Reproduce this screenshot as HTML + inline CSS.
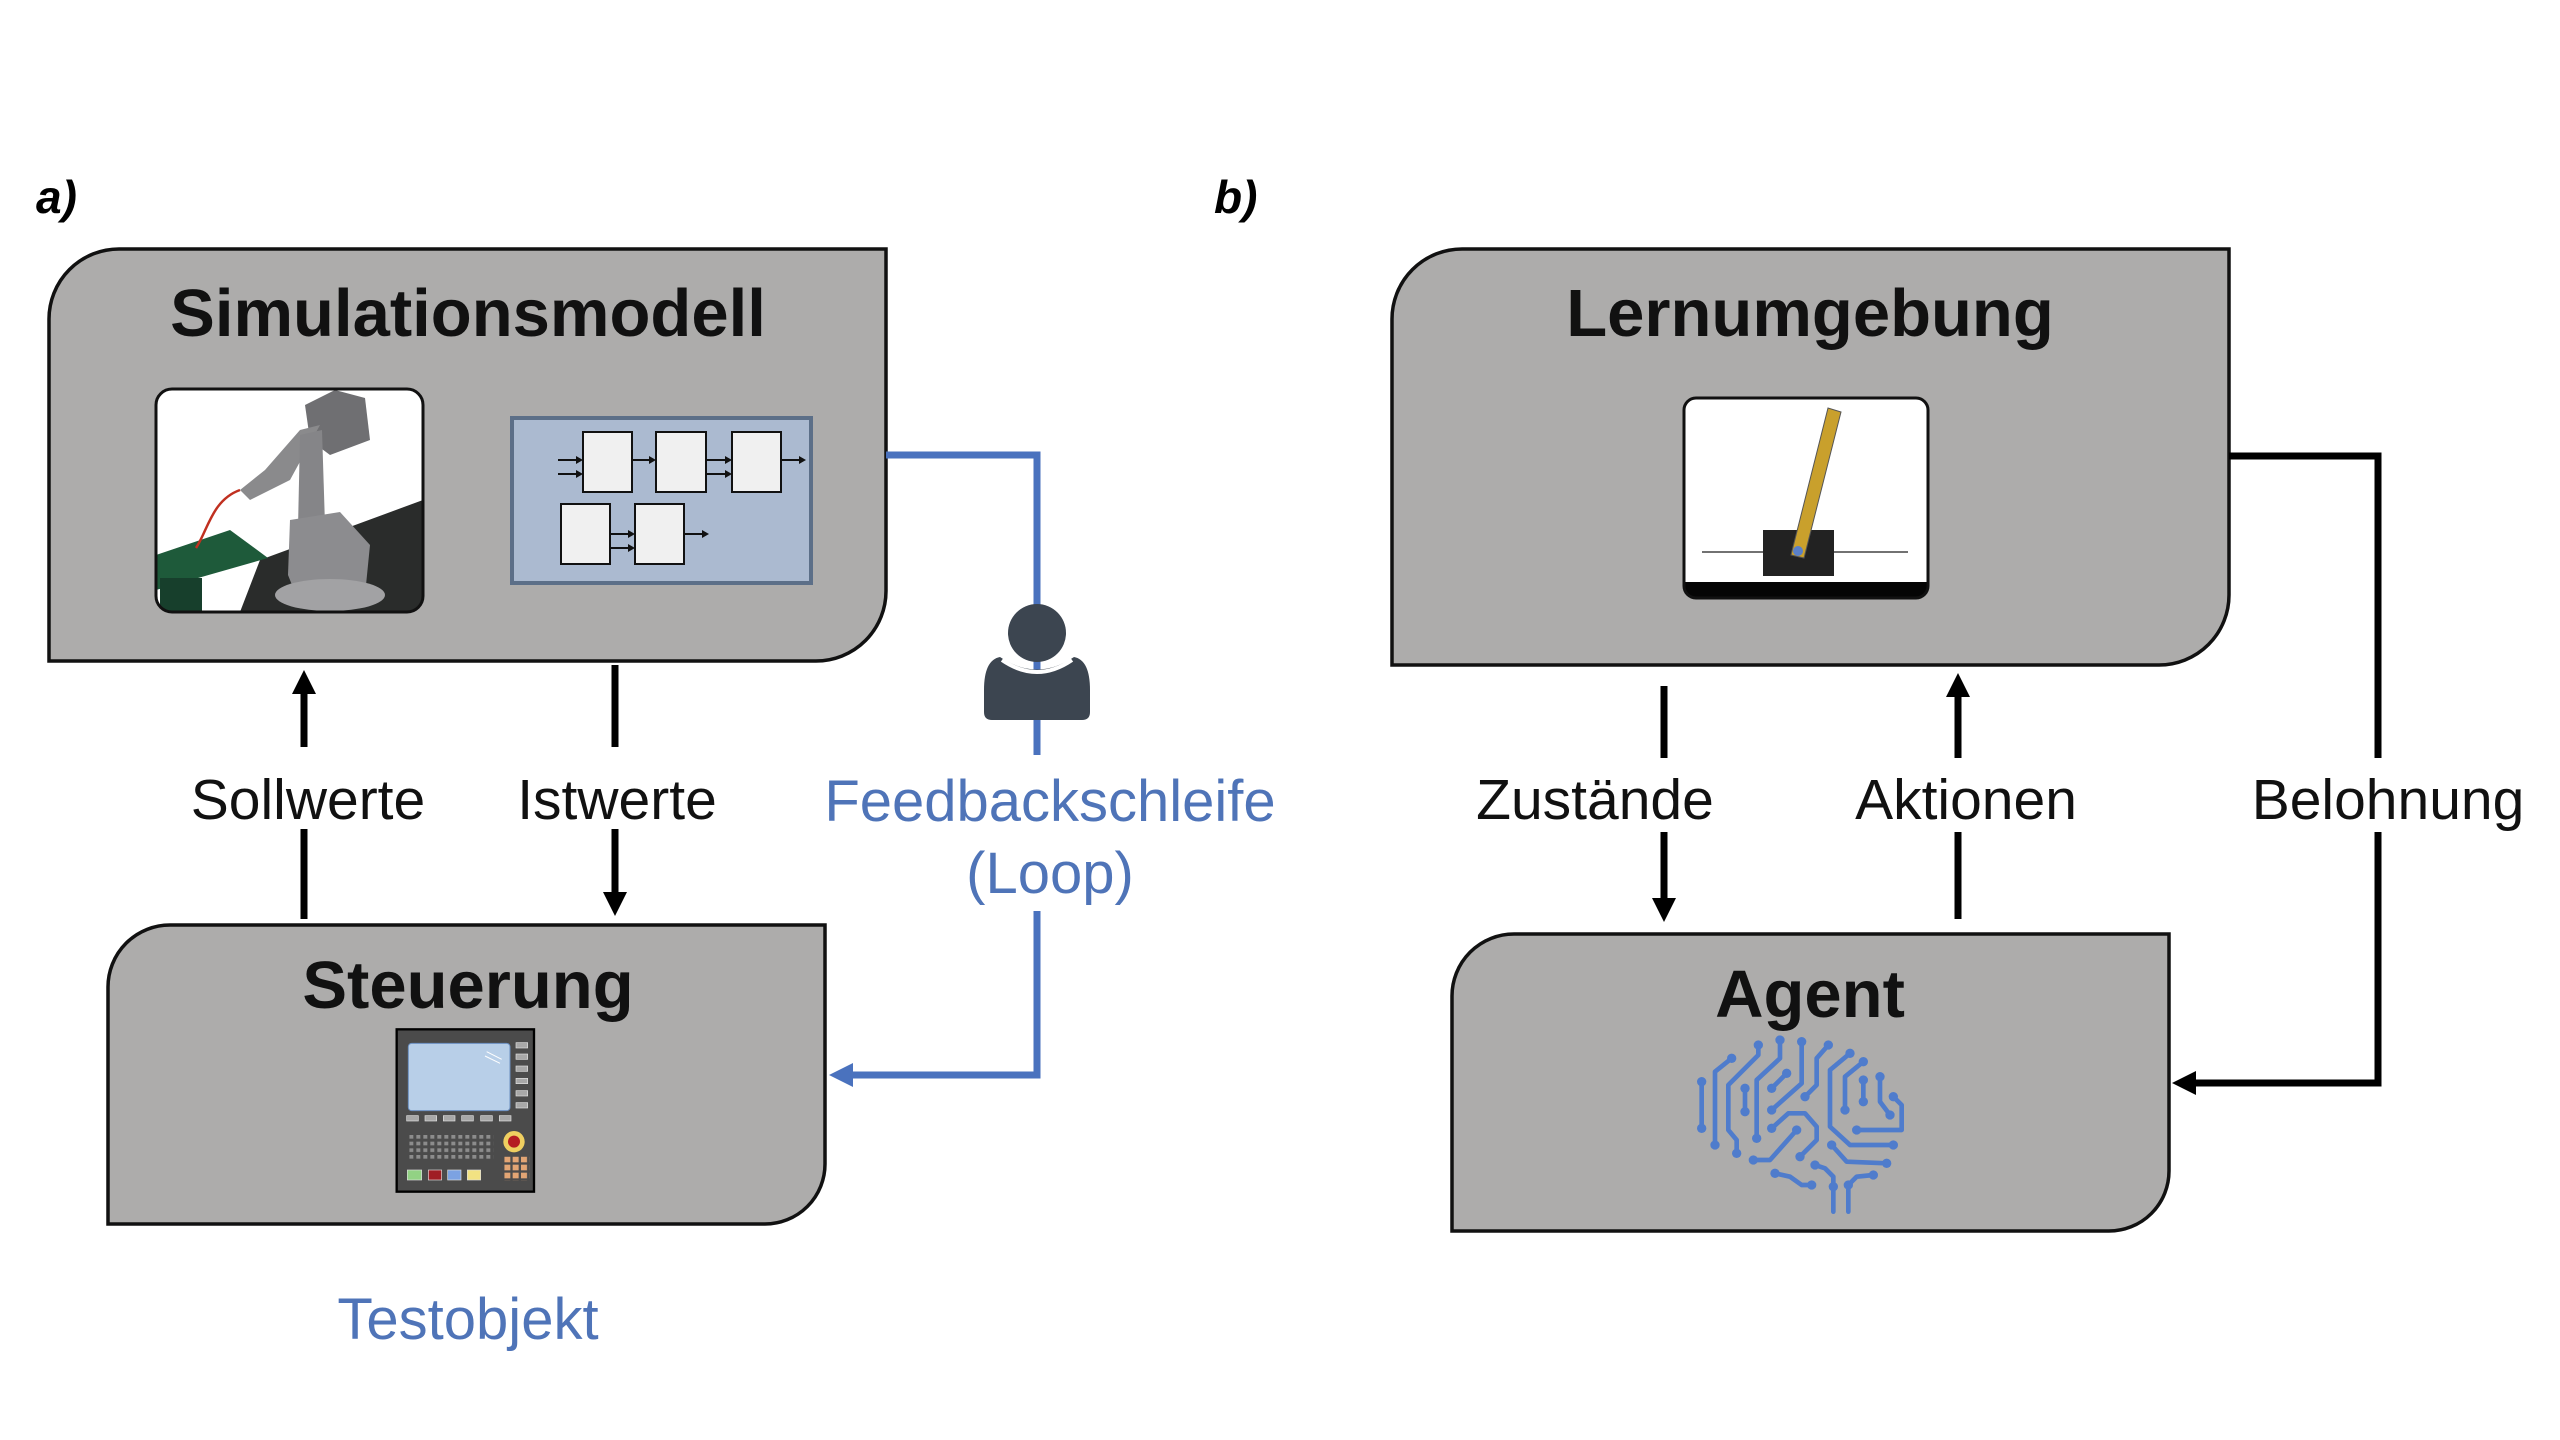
<!DOCTYPE html>
<html><head><meta charset="utf-8"><style>html,body{margin:0;padding:0;background:#fff}svg{display:block}</style></head>
<body>
<svg width="2560" height="1440" viewBox="0 0 2560 1440" xmlns="http://www.w3.org/2000/svg" font-family="Liberation Sans, sans-serif">
<rect width="2560" height="1440" fill="#fff"/>
<text x="36" y="213" font-size="46" font-weight="bold" font-style="italic">a)</text>
<text x="1214" y="213" font-size="46" font-weight="bold" font-style="italic">b)</text>

<g fill="#adacab" stroke="#111" stroke-width="3.5">
<path d="M119 249 H886 V591 A70 70 0 0 1 816 661 H49 V319 A70 70 0 0 1 119 249 Z"/>
<path d="M170 925 H825 V1164 A60 60 0 0 1 765 1224 H108 V987 A62 62 0 0 1 170 925 Z"/>
<path d="M1462 249 H2229 V595 A70 70 0 0 1 2159 665 H1392 V319 A70 70 0 0 1 1462 249 Z"/>
<path d="M1514 934 H2169 V1171 A60 60 0 0 1 2109 1231 H1452 V996 A62 62 0 0 1 1514 934 Z"/>
</g>

<g font-weight="bold" font-size="67" text-anchor="middle" fill="#111">
<text x="468" y="336">Simulationsmodell</text>
<text x="468" y="1008">Steuerung</text>
<text x="1810" y="336">Lernumgebung</text>
<text x="1810" y="1017">Agent</text>
</g>

<clipPath id="rc"><rect x="156" y="389" width="267" height="223" rx="16"/></clipPath>
<g clip-path="url(#rc)">
<rect x="156" y="389" width="267" height="223" fill="#fff"/>
<polygon points="260,560 423,500 423,612 240,612" fill="#2a2c2b"/>
<polygon points="156,555 230,530 268,558 156,590" fill="#1e5a3a"/>
<rect x="160" y="578" width="42" height="34" fill="#173f2c"/>
<path d="M196 548 C208 530 212 500 240 490" stroke="#c03020" stroke-width="2.5" fill="none"/>
<polygon points="305,405 335,390 365,398 370,440 330,455 310,440" fill="#6f6f72"/>
<polygon points="300,430 320,425 290,480 250,500 240,490 265,470" fill="#8a8a8c"/>
<polygon points="300,435 322,430 325,525 298,528" fill="#858588"/>
<polygon points="290,520 340,512 370,545 365,595 300,605 288,575" fill="#8c8c8f"/>
<ellipse cx="330" cy="595" rx="55" ry="16" fill="#a2a2a4"/>
</g>
<rect x="156" y="389" width="267" height="223" rx="16" fill="none" stroke="#111" stroke-width="3"/>

<rect x="512" y="418" width="299" height="165" fill="#abbad0" stroke="#5c6f88" stroke-width="4"/>
<g fill="#f0f0f0" stroke="#111" stroke-width="2">
<rect x="583" y="432" width="49" height="60"/><rect x="656" y="432" width="50" height="60"/><rect x="732" y="432" width="49" height="60"/>
<rect x="561" y="504" width="49" height="60"/><rect x="635" y="504" width="49" height="60"/>
</g>
<g stroke="#111" stroke-width="2">
<line x1="558" y1="460" x2="578" y2="460"/><line x1="558" y1="474" x2="578" y2="474"/>
<line x1="632" y1="460" x2="651" y2="460"/><line x1="706" y1="460" x2="727" y2="460"/><line x1="706" y1="474" x2="727" y2="474"/>
<line x1="781" y1="460" x2="799" y2="460"/>
<line x1="610" y1="534" x2="630" y2="534"/><line x1="610" y1="548" x2="630" y2="548"/><line x1="684" y1="534" x2="702" y2="534"/>
</g>
<g fill="#111">
<polygon points="583,460 576,456 576,464"/><polygon points="583,474 576,470 576,478"/>
<polygon points="656,460 649,456 649,464"/><polygon points="732,460 725,456 725,464"/><polygon points="732,474 725,470 725,478"/>
<polygon points="806,460 799,456 799,464"/>
<polygon points="635,534 628,530 628,538"/><polygon points="635,548 628,544 628,552"/><polygon points="709,534 702,530 702,538"/>
</g>

<g transform="translate(390,1020) scale(0.33333)">
<rect x="20" y="28" width="412" height="487" fill="#4b4b4b" stroke="#000" stroke-width="7"/>
<rect x="55" y="70" width="305" height="202" rx="10" fill="#b8cfe8" stroke="#6b8fc0" stroke-width="3"/>
<line x1="290" y1="95" x2="335" y2="118" stroke="#fff" stroke-width="3"/><line x1="285" y1="108" x2="330" y2="130" stroke="#fff" stroke-width="3"/>
<g fill="#a8a8a8" stroke="#e0e0e0" stroke-width="2">
<rect x="378" y="68" width="35" height="16"/><rect x="378" y="102" width="35" height="16"/><rect x="378" y="138" width="35" height="16"/><rect x="378" y="175" width="35" height="16"/><rect x="378" y="212" width="35" height="16"/><rect x="378" y="248" width="35" height="16"/>
<rect x="50" y="287" width="35" height="16"/><rect x="105" y="287" width="35" height="16"/><rect x="160" y="287" width="35" height="16"/><rect x="215" y="287" width="35" height="16"/><rect x="272" y="287" width="35" height="16"/><rect x="328" y="287" width="35" height="16"/>
</g>
<pattern id="kp" x="58" y="345" width="21" height="20" patternUnits="userSpaceOnUse"><rect width="12" height="11" fill="#8c8c8c"/></pattern>
<rect x="58" y="345" width="252" height="78" fill="url(#kp)"/>
<circle cx="372" cy="365" r="32" fill="#efcf60"/><circle cx="372" cy="365" r="18" fill="#b41c22"/>
<pattern id="np" x="343" y="410" width="25" height="24" patternUnits="userSpaceOnUse"><rect width="18" height="17" fill="#e2a574"/></pattern>
<rect x="343" y="410" width="75" height="72" fill="url(#np)"/>
<rect x="52" y="450" width="43" height="30" fill="#92d284" stroke="#ddd" stroke-width="2"/>
<rect x="115" y="450" width="40" height="30" fill="#a01e24" stroke="#ddd" stroke-width="2"/>
<rect x="173" y="450" width="40" height="30" fill="#7ca2e2" stroke="#ddd" stroke-width="2"/>
<rect x="232" y="450" width="40" height="30" fill="#f2e282" stroke="#ddd" stroke-width="2"/>
</g>

<clipPath id="cc"><rect x="1684" y="398" width="244" height="200" rx="12"/></clipPath>
<g clip-path="url(#cc)">
<rect x="1684" y="398" width="244" height="200" fill="#fff"/>
<rect x="1684" y="582" width="244" height="20" fill="#050505"/>
<line x1="1702" y1="552" x2="1908" y2="552" stroke="#444" stroke-width="1.5"/>
<rect x="1763" y="530" width="71" height="46" fill="#222"/>
<polygon points="1791,555 1804,558 1841,412 1828,408" fill="#c9a02c" stroke="#555" stroke-width="1"/>
<circle cx="1798" cy="551" r="5" fill="#5a80c8"/>
</g>
<rect x="1684" y="398" width="244" height="200" rx="12" fill="none" stroke="#111" stroke-width="3"/>

<g transform="translate(1690,1030) scale(0.33333)" stroke="#4f7ccc" stroke-width="14" fill="none" stroke-linejoin="round" stroke-linecap="round">
<polyline points="35,155 35,295"/>
<polyline points="75,345 75,125 125,85"/>
<polyline points="140,370 140,330 115,300 115,165 205,75 205,45"/>
<polyline points="165,175 165,245"/>
<polyline points="200,325 200,150 270,85 270,30"/>
<polyline points="245,175 290,130"/>
<polyline points="245,240 335,160 335,35"/>
<polyline points="345,200 380,165 380,85 415,45"/>
<polyline points="245,295 295,250 345,250 380,290 380,330 330,380"/>
<polyline points="190,390 240,390 320,300"/>
<polyline points="465,240 465,140 520,95"/>
<polyline points="520,150 520,215"/>
<polyline points="570,140 570,215 600,255"/>
<polyline points="610,200 635,225 635,300 500,300"/>
<polyline points="480,70 420,120 420,290 480,345 610,345"/>
<polyline points="425,345 470,395 590,400"/>
<polyline points="255,430 300,440 335,465 365,465"/>
<polyline points="375,405 405,415 430,440 430,545"/>
<polyline points="550,435 500,440 475,465 475,545"/>
<g fill="#4f7ccc" stroke="none">
<circle cx="35" cy="155" r="14"/><circle cx="35" cy="295" r="14"/><circle cx="75" cy="345" r="14"/><circle cx="125" cy="85" r="14"/>
<circle cx="140" cy="370" r="14"/><circle cx="205" cy="45" r="14"/><circle cx="165" cy="175" r="14"/><circle cx="165" cy="245" r="14"/>
<circle cx="200" cy="325" r="14"/><circle cx="270" cy="30" r="14"/><circle cx="245" cy="175" r="14"/><circle cx="290" cy="130" r="14"/>
<circle cx="245" cy="240" r="14"/><circle cx="335" cy="35" r="14"/><circle cx="345" cy="200" r="14"/><circle cx="415" cy="45" r="14"/>
<circle cx="245" cy="295" r="14"/><circle cx="330" cy="380" r="14"/><circle cx="190" cy="390" r="14"/><circle cx="320" cy="300" r="14"/>
<circle cx="465" cy="240" r="14"/><circle cx="520" cy="95" r="14"/><circle cx="520" cy="150" r="14"/><circle cx="520" cy="215" r="14"/>
<circle cx="570" cy="140" r="14"/><circle cx="600" cy="255" r="14"/><circle cx="610" cy="200" r="14"/><circle cx="500" cy="300" r="14"/>
<circle cx="480" cy="70" r="14"/><circle cx="610" cy="345" r="14"/><circle cx="425" cy="345" r="14"/><circle cx="590" cy="400" r="14"/>
<circle cx="255" cy="430" r="14"/><circle cx="365" cy="465" r="14"/><circle cx="375" cy="405" r="14"/><circle cx="550" cy="435" r="14"/>
<circle cx="430" cy="470" r="14"/><circle cx="475" cy="465" r="14"/>
</g>
</g>

<g stroke="#000" stroke-width="7" fill="none">
<line x1="304" y1="919" x2="304" y2="829"/><line x1="304" y1="747" x2="304" y2="690"/>
<line x1="615" y1="665" x2="615" y2="747"/><line x1="615" y1="829" x2="615" y2="896"/>
<line x1="1664" y1="686" x2="1664" y2="758"/><line x1="1664" y1="832" x2="1664" y2="902"/>
<line x1="1958" y1="919" x2="1958" y2="832"/><line x1="1958" y1="758" x2="1958" y2="693"/>
<polyline points="2229,456 2378,456 2378,758"/><polyline points="2378,832 2378,1083 2194,1083"/>
</g>
<g fill="#000">
<polygon points="304,670 292,694 316,694"/>
<polygon points="615,916 603,892 627,892"/>
<polygon points="1664,922 1652,898 1676,898"/>
<polygon points="1958,673 1946,697 1970,697"/>
<polygon points="2172,1083 2196,1071 2196,1095"/>
</g>

<g stroke="#4a72be" stroke-width="7" fill="none">
<polyline points="886,455 1037,455 1037,755"/>
<polyline points="1037,911 1037,1075 850,1075"/>
</g>
<polygon points="829,1075 853,1063 853,1087" fill="#4a72be"/>
<circle cx="1037" cy="633" r="29" fill="#3c4550"/>
<path d="M1000 657 Q1037 682 1074 657 Q1090 660 1090 690 V712 Q1090 720 1082 720 H992 Q984 720 984 712 V690 Q984 660 1000 657 Z" fill="#3c4550"/>
<path d="M1002 660 Q1037 684 1072 660" stroke="#fff" stroke-width="4" fill="none"/>

<g font-size="57" text-anchor="middle" fill="#111">
<text x="308" y="819">Sollwerte</text>
<text x="617" y="819">Istwerte</text>
<text x="1595" y="819">Zustände</text>
<text x="1966" y="819">Aktionen</text>
<text x="2388" y="819">Belohnung</text>
</g>
<g font-size="58" text-anchor="middle" fill="#4f74b8">
<text x="1050" y="821">Feedbackschleife</text>
<text x="1050" y="893">(Loop)</text>
<text x="468" y="1339">Testobjekt</text>
</g>
</svg>
</body></html>
